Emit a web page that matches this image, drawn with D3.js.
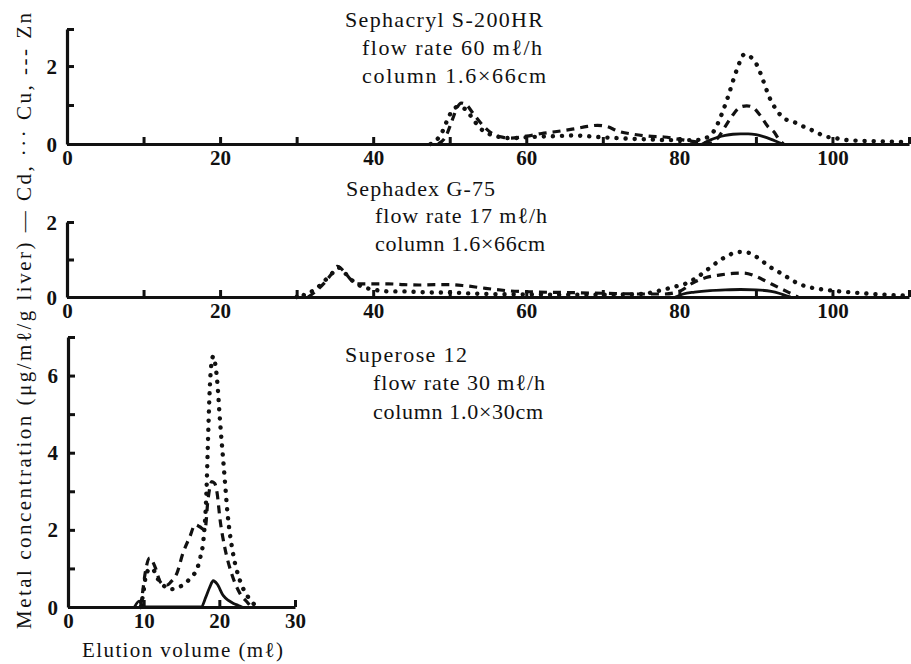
<!DOCTYPE html>
<html>
<head>
<meta charset="utf-8">
<script src="https://cdn.jsdelivr.net/npm/d3@7"></script>
<style>
  body { margin: 0; background: #fff; }
  svg text { font-family: "Liberation Serif", "DejaVu Serif", serif; fill: #111; }
</style>
</head>
<body>
<div id="chart"></div>
<script>
// ---- data (elution volume mL, metal concentration ug/mL/g liver) ----
// Sephacryl S-200HR
const s200Cd = [[83, 0], [84, 0.1], [85, 0.17], [86, 0.22], [87, 0.25], [88, 0.26], [89, 0.26], [90, 0.24], [91, 0.19], [92, 0.12], [93, 0.04], [93.6, 0]];
const s200Cu = [[47.5, 0], [48, 0.05], [49, 0.3], [50, 0.75], [51, 0.95], [52, 0.9], [53, 0.65], [54, 0.4], [55, 0.27], [56, 0.2], [58, 0.15], [60, 0.17], [62, 0.19], [64, 0.2], [66, 0.22], [68, 0.2], [70, 0.17], [72, 0.15], [74, 0.13], [76, 0.12], [78, 0.1], [80, 0.1], [82, 0.1], [83.4, 0.15], [84.6, 0.36], [85.5, 0.75], [86.3, 1.18], [87.5, 1.9], [88.5, 2.3], [89.2, 2.25], [90.2, 2.0], [91, 1.6], [91.8, 1.18], [92.7, 0.87], [93.6, 0.67], [95, 0.56], [96.3, 0.44], [97.6, 0.33], [99, 0.2], [100.4, 0.15], [102, 0.1], [104, 0.08], [106, 0.07], [108, 0.06], [110, 0.05]];
const s200Zn = [[48.5, 0], [49.5, 0.2], [50.3, 0.6], [51, 0.95], [51.5, 1.05], [52.2, 1.0], [53, 0.8], [54, 0.55], [55, 0.35], [56, 0.22], [57, 0.17], [58, 0.15], [60, 0.2], [62, 0.27], [64, 0.32], [66, 0.38], [68, 0.45], [69.3, 0.48], [70.5, 0.45], [72, 0.33], [74, 0.25], [76, 0.2], [78, 0.18], [80, 0.12], [82, 0.06], [84, 0.02], [85, 0.15], [86, 0.45], [87, 0.75], [88, 0.95], [88.8, 0.98], [89.5, 0.95], [90.5, 0.75], [91.6, 0.44], [92.4, 0.3], [93, 0.12], [93.6, 0]];

// Sephadex G-75
const g75Cd = [[79.5, 0], [80.5, 0.08], [82, 0.13], [84, 0.17], [86, 0.19], [88, 0.2], [90, 0.19], [92, 0.15], [93, 0.1], [94, 0.03], [94.5, 0]];
const g75Cu = [[30, 0], [30.5, 0.1], [31, 0.05], [32, 0.15], [33, 0.3], [34, 0.5], [35, 0.7], [35.5, 0.78], [36.5, 0.6], [37.5, 0.4], [38.5, 0.28], [40, 0.2], [42, 0.15], [44, 0.15], [46, 0.13], [48, 0.12], [50, 0.12], [52, 0.1], [55, 0.08], [60, 0.07], [65, 0.06], [70, 0.06], [75, 0.08], [77.8, 0.19], [79.5, 0.28], [81, 0.37], [82.5, 0.55], [83.6, 0.72], [85.4, 0.99], [86.5, 1.12], [87.7, 1.2], [89, 1.18], [90, 1.08], [91, 0.93], [92, 0.78], [93.2, 0.64], [94.3, 0.5], [95.4, 0.37], [96.8, 0.27], [98.4, 0.21], [100, 0.17], [102, 0.13], [104, 0.1], [106, 0.07], [108, 0.05], [110, 0.04]];
const g75Zn = [[31.5, 0], [32.5, 0.15], [33.5, 0.35], [34.5, 0.6], [35.3, 0.82], [36.2, 0.68], [37, 0.48], [38, 0.35], [40, 0.35], [42, 0.35], [44, 0.33], [46, 0.32], [48, 0.33], [50, 0.33], [52, 0.3], [54, 0.25], [56, 0.2], [58, 0.16], [60, 0.14], [65, 0.12], [70, 0.1], [75, 0.08], [78, 0.08], [80, 0.15], [81.8, 0.38], [83.5, 0.52], [85.4, 0.59], [87, 0.63], [88.4, 0.64], [90, 0.55], [91.5, 0.4], [93.5, 0.2], [95, 0.05], [95.5, 0]];

// Superose 12
const sup12Cd = [[8.8, 0], [9.4, 0.15], [10, 0], [17.6, 0], [18.2, 0.25], [18.7, 0.5], [19.2, 0.68], [19.7, 0.6], [20.5, 0.3], [21.2, 0.17], [21.8, 0.1], [22.5, 0.04], [23, 0]];
const sup12Cu = [[9.6, 0], [9.9, 0.3], [10.4, 0.9], [11.1, 1.0], [11.9, 0.72], [12.5, 0.58], [13, 0.5], [13.6, 0.46], [14.3, 0.49], [15, 0.55], [15.7, 0.65], [16.4, 0.8], [17, 0.96], [17.5, 1.3], [17.9, 1.74], [18.3, 3.0], [18.5, 4.3], [18.7, 5.5], [18.95, 6.3], [19.2, 6.5], [19.5, 6.25], [19.7, 5.9], [20.1, 4.8], [20.6, 3.6], [21.1, 2.4], [21.8, 1.4], [22.7, 0.7], [23.8, 0.26], [24.7, 0.05], [25, 0]];
const sup12Zn = [[9.6, 0], [9.9, 0.44], [10.2, 0.88], [10.8, 1.27], [11.5, 1.04], [12.2, 0.65], [12.7, 0.58], [13.1, 0.57], [13.6, 0.65], [14.4, 0.88], [15.2, 1.4], [16.1, 1.82], [16.8, 2.13], [17.4, 2.08], [18.1, 2.0], [18.5, 2.78], [19.0, 3.25], [19.4, 3.2], [19.7, 2.96], [20.1, 2.26], [20.7, 1.56], [21.6, 0.88], [22.7, 0.36], [23.8, 0.1], [24.2, 0]];

const s200Text = ["Sephacryl S-200HR", "flow rate 60 mℓ/h", "column 1.6×66cm"];
const g75Text = ["Sephadex G-75", "flow rate 17 mℓ/h", "column 1.6×66cm"];
const sup12Text = ["Superose 12", "flow rate 30 mℓ/h", "column 1.0×30cm"];

const xTicksLong = [0, 10, 20, 30, 40, 50, 60, 70, 80, 90, 100, 110];
const xTicksShort = [0, 10, 20, 30];

const width = 911, height = 664;
const svg = d3.select("#chart").append("svg")
    .attr("width", width)
    .attr("height", height);

// line styles: Cd solid, Cu dotted, Zn dashed
const styles = {
    cd: { dash: null, w: 2.8, cap: "round" },
    cu: { dash: "0.1 9", w: 4.4, cap: "round" },
    zn: { dash: "8 6", w: 3.2, cap: "butt" }
};

const panels = [
    {
        series: { cd: s200Cd, cu: s200Cu, zn: s200Zn }, text: s200Text,
        xDom: 110, xr: [67, 909], yDom: 2.95, yr: [144, 29],
        yTicks: [0, 1, 2, 2.95], yLab: [0, 2], xTicks: xTicksLong, xLab: d => d % 20 === 0,
        textPos: [[345, 198, 27], [362, 180, 55], [362, 184, 83]]
    },
    {
        series: { cd: g75Cd, cu: g75Cu, zn: g75Zn }, text: g75Text,
        xDom: 110, xr: [67, 909], yDom: 2, yr: [297, 222],
        yTicks: [0, 1, 2], yLab: [0, 2], xTicks: xTicksLong, xLab: d => d % 20 === 0,
        textPos: [[346, 149, 196], [375, 172, 223], [375, 170, 251]]
    },
    {
        series: { cd: sup12Cd, cu: sup12Cu, zn: sup12Zn }, text: sup12Text,
        xDom: 30, xr: [68, 295], yDom: 7, yr: [607, 337],
        yTicks: [0, 1, 2, 3, 4, 5, 6, 7], yLab: [0, 2, 4, 6], xTicks: xTicksShort, xLab: d => true,
        textPos: [[345, 122, 362], [373, 172, 390], [373, 170, 419]]
    }
];

panels.forEach(p => {
    const x = d3.scaleLinear().domain([0, p.xDom]).range(p.xr);
    const y = d3.scaleLinear().domain([0, p.yDom]).range(p.yr);
    const g = svg.append("g");

    const line = d3.line()
        .x(d => x(d[0]))
        .y(d => y(d[1]))
        .curve(d3.curveMonotoneX);

    ["cd", "zn", "cu"].forEach(k => {
        const st = styles[k];
        g.append("path")
            .datum(p.series[k])
            .attr("d", line)
            .attr("fill", "none")
            .attr("stroke", "#111")
            .attr("stroke-width", st.w)
            .attr("stroke-linecap", st.cap)
            .attr("stroke-linejoin", "round")
            .attr("stroke-dasharray", st.dash);
    });

    // axes
    const xAxis = d3.axisBottom(x)
        .tickValues(p.xTicks)
        .tickSizeInner(-7)
        .tickSizeOuter(0)
        .tickPadding(6)
        .tickFormat(d => p.xLab(d) ? d : "");
    const xg = g.append("g").attr("transform", `translate(0,${p.yr[0]})`).call(xAxis);

    const yAxis = d3.axisLeft(y)
        .tickValues(p.yTicks)
        .tickSizeInner(-7)
        .tickSizeOuter(0)
        .tickPadding(10)
        .tickFormat(d => p.yLab.includes(d) ? d : "");
    const yg = g.append("g").attr("transform", `translate(${p.xr[0]},0)`).call(yAxis);

    [xg, yg].forEach(a => {
        a.select(".domain").attr("stroke", "#111").attr("stroke-width", 3.2);
        a.selectAll(".tick line").attr("stroke", "#111").attr("stroke-width", 3);
        a.selectAll("text")
            .style("font-family", "'Liberation Serif', serif")
            .style("font-size", "21px")
            .style("font-weight", "bold")
            .attr("fill", "#111");
    });
    xg.selectAll("text").attr("dy", "0.71em");
    yg.selectAll("text").attr("dy", "0.34em");

    // column description
    p.text.forEach((t, i) => {
        const [tx, tw, ty] = p.textPos[i];
        g.append("text")
            .attr("x", tx)
            .attr("y", ty)
            .attr("textLength", tw)
            .attr("lengthAdjust", "spacing")
            .style("font-size", "22px")
            .text(t);
    });
});

// axis titles
svg.append("text")
    .attr("transform", "translate(31,321) rotate(-90)")
    .attr("text-anchor", "middle")
    .attr("textLength", 616)
    .attr("lengthAdjust", "spacing")
    .style("font-size", "21px")
    .text("Metal concentration (μg/mℓ/g liver) — Cd, ··· Cu, --- Zn");

svg.append("text")
    .attr("x", 82)
    .attr("y", 657)
    .attr("textLength", 201)
    .attr("lengthAdjust", "spacing")
    .style("font-size", "21px")
    .text("Elution volume (mℓ)");
</script>
</body>
</html>
